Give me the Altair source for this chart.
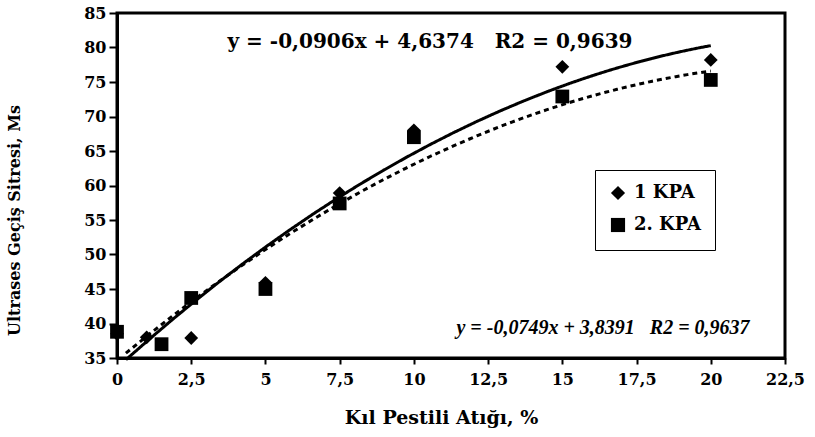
import altair as alt
import pandas as pd

# Data
series1_name = "1 KPA"
series2_name = "2. KPA"
x1 = [0, 1, 2.5, 5, 7.5, 10, 15, 20]
y1 = [38.5, 38.0, 37.9, 45.9, 58.9, 68.0, 77.2, 78.2]
x2 = [0, 1.5, 2.5, 5, 7.5, 10, 15, 20]
y2 = [38.8, 37.0, 43.7, 45.0, 57.4, 67.0, 72.9, 75.3]

x_ticks = [0, 2.5, 5, 7.5, 10, 12.5, 15, 17.5, 20, 22.5]
y_ticks = [35, 40, 45, 50, 55, 60, 65, 70, 75, 80, 85]

NB = "\u00a0"
eq1 = "y = -0,0906x + 4,6374" + NB * 3 + "R2 = 0,9639"
eq2 = "y = -0,0749x + 3,8391" + NB * 3 + "R2 = 0,9637"

df = pd.DataFrame(
    {"x": x1 + x2, "y": y1 + y2,
     "series": [series1_name] * len(x1) + [series2_name] * len(x2)}
)

FONT = "DejaVu Serif"

xscale = alt.Scale(domain=[0, 22.5], nice=False, zero=False)
yscale = alt.Scale(domain=[35, 85], nice=False, zero=False)

xaxis = alt.Axis(
    values=x_ticks, title="Kıl Pestili Atığı, %",
    labelExpr="replace(format(datum.value, '.1~f'), '.', ',')",
    grid=False, domainColor="black", domainWidth=3, tickColor="black",
    tickWidth=2, tickSize=6, labelFont=FONT, labelFontWeight="bold",
    labelFontSize=16, labelColor="black", labelPadding=7,
    labelFlush=False, labelOverlap=False,
    titleFont=FONT, titleFontWeight="bold", titleFontSize=19,
    titleColor="black", titlePadding=21, titleX=324,
)
yaxis = alt.Axis(
    values=y_ticks, title="Ultrases Geçiş Sitresi, Ms",
    grid=False, domainColor="black", domainWidth=3, tickColor="black",
    tickWidth=2, tickSize=8, labelFont=FONT, labelFontWeight="bold",
    labelFontSize=16, labelColor="black", labelPadding=3,
    labelFlush=False, labelOverlap=False,
    titleFont=FONT, titleFontWeight="bold", titleFontSize=16,
    titleColor="black", titleX=-95, titleY=207,
)

X = alt.X("x:Q", scale=xscale, axis=xaxis)
Y = alt.Y("y:Q", scale=yscale, axis=yaxis)

base = alt.Chart(df)


def trend(name, dash):
    return base.transform_filter(
        alt.datum.series == name
    ).transform_regression(
        "x", "y", method="poly", order=2, extent=[0.3, 20]
    ).mark_line(color="black", strokeWidth=3, strokeDash=dash).encode(x=X, y=Y)


line1 = trend(series1_name, [1, 0])
line2 = trend(series2_name, [5, 4])

points = base.mark_point(filled=True, color="black", opacity=1, size=190).encode(
    x=X, y=Y,
    shape=alt.Shape(
        "series:N",
        scale=alt.Scale(domain=[series1_name, series2_name], range=["diamond", "square"]),
        legend=alt.Legend(
            title=None, orient="none", legendX=478, legendY=157,
            strokeColor="black", fillColor="white", padding=14,
            labelFont=FONT, labelFontWeight="bold", labelFontSize=18,
            labelColor="black", symbolFillColor="black", symbolStrokeColor="black",
            symbolSize=200, rowPadding=10, symbolOpacity=1, labelLimit=200,
            labelOffset=7,
        ),
    ),
)

text1 = alt.Chart(pd.DataFrame({"t": [eq1]})).mark_text(
    font=FONT, fontWeight="bold", fontSize=20, color="black", align="center", baseline="middle"
).encode(text="t:N", x=alt.value(313), y=alt.value(29))

text2 = alt.Chart(pd.DataFrame({"t": [eq2]})).mark_text(
    font="Liberation Serif", fontWeight="bold", fontStyle="italic", fontSize=20, color="black",
    align="center", baseline="middle"
).encode(text="t:N", x=alt.value(486), y=alt.value(315))

chart = alt.layer(line1, line2, points, text1, text2).properties(
    width=668, height=345,
    autosize=alt.AutoSizeParams(type="none"),
    padding={"left": 117, "top": 13, "right": 30, "bottom": 79},
    background="white",
).configure_view(stroke="black", strokeWidth=3).configure_axis(labelOverlap=False)

chart.save("out.html", embed_options={"renderer": "svg", "actions": False})
